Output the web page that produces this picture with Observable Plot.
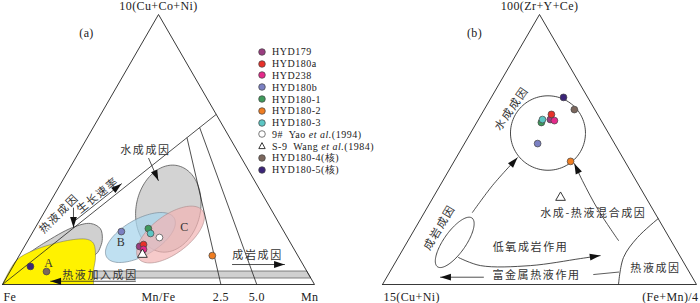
<!DOCTYPE html>
<html><head><meta charset="utf-8">
<script src="https://cdn.jsdelivr.net/npm/d3@7"></script>
<script src="https://cdn.jsdelivr.net/npm/@observablehq/plot@0.6"></script>
<style>
body{margin:0;background:#fff;}
#wrap{position:relative;width:700px;height:303px;display:flex;}
#legend{position:absolute;left:258px;top:46px;font-family:"Liberation Serif",serif;font-size:10px;color:#222;letter-spacing:0.5px;}
#legend .row{height:11.8px;display:flex;align-items:center;white-space:nowrap;}
#legend svg{margin-right:6px;flex:none;}
</style></head><body><div id="wrap"></div>
<script>
// ---------- data ----------
const samples = ["HYD179","HYD180a","HYD238","HYD180b","HYD180-1","HYD180-2","HYD180-3","9#","S-9","HYD180-4","HYD180-5"];
const legendLabels = ["HYD179","HYD180a","HYD238","HYD180b","HYD180-1","HYD180-2","HYD180-3",
  "9#&nbsp; Yao <i>et al.</i>(1994)","S-9&nbsp; Wang <i>et al.</i>(1984)","HYD180-4(核)","HYD180-5(核)"];
const sampleColors = ["#9a3d80","#e8312a","#e5298a","#7b80c2","#3f9a5c","#ef7d22","#5cc6c4","#ffffff","#ffffff","#7b675d","#3b2478"];

// panel (a): 10(Cu+Co+Ni) – Fe – Mn (%)
const aCuCoNi = [14.1,14.8,13.0,19.6,20.7,10.7,18.9,17.4,11.1,4.8,6.7];
const aFe     = [49.0,47.4,48.3,52.1,42.9,27.4,43.1,41.0,49.6,83.5,87.7];
const aMn     = [36.9,37.8,38.7,28.3,36.4,61.9,38.0,41.6,39.3,11.7,5.6];
// panel (b): 100(Zr+Y+Ce) – 15(Cu+Ni) – (Fe+Mn)/4 (%)
const bZrYCe  = [61.1,63.0,60.7,52.2,60.0,45.6,61.1,null,32.2,64.8,69.3];
const bCuNi   = [16.0,14.7,14.9,24.5,19.4,17.3,18.5,null,27.2,6.5,7.7];
const bFeMn   = [22.9,22.3,24.4,23.3,20.6,37.1,20.4,null,40.6,28.7,23.0];

// base tick labels of (a) and their Mn share on the Fe–Mn side (%)
const aBaseLabels = ["Mn/Fe","2.5","5.0"];
const aBaseMn = [50, 70, 81.5];
const aRatioLines = [70, 81.5];
const aMainLineEnd = [63, 37]; // [top %, Mn %] on the Cu–Mn side

// field outlines, [top %, right %]
const aHydroGray = [[8.1,0],[15.2,5.5],[21.1,11.9],[22.6,16.9],[20.7,21.0],[17.0,23.5],[14.1,24.4],[11.1,24.3],[6,15],[3,3]];
const aYellow = [[0,0],[8.9,0],[12.6,3.6],[16.3,12.7],[16.7,18.9],[15.2,21.6],[10,24.8],[5.2,26.6],[0,29.2]];
const aBand = [[5.0,26.7],[5.0,95.0],[2.4,97.6],[2.4,28.0]];
// ellipses: [top %, right %, semi-axis a, semi-axis b (side units), angle deg]
const aEllHydro = [28.1,39.1,0.141,0.103,78];
const aEllB = [17.4,35.5,0.125,0.058,30];
const aEllC = [18.5,44.6,0.128,0.061,37];
const bCircle = [56.1,24.65,0.1194,0.1194,0];
const bEllDiag = [15.6,15.2,0.0955,0.035,55];

const aArrows = [
  [[46.7,23.5],[38.5,30.7]],
  [[28.3,8.6],[21.1,12.2]],
  [[23.8,11.5],[37.3,19.5]],
  [[1.2,42.0],[1.2,14.8]],
  [[7.4,70.0],[7.4,86.7]]
];
const bArrows = [
  [[26.7,15.3],[36.7,16.7],[47.0,19.5]],
  [[16.3,67.0],[27.4,55.1],[38.5,44.4],[44.8,38.7]],
  [[10.0,19.2],[7.0,27.7],[7.0,43.6],[9.6,58.2],[10.7,64.0]],
  [[2.7,30.8],[2.7,17.1]]
];
const bLineMetal = [[3.7,65.4],[4.6,72.9]];
const bHydroBoundary = [[24.4,75.6],[17.4,72.5],[10.0,71.75],[0,75.16]];

const aZhLabels = [["水成成因",49.6,21.0,0],["热液成因",26.2,5.0,-45],["生长速率",33.0,14.0,-38.5],["热液加入成因",3.3,29.6,0],["成岩成因",10.7,76.4,0]];
const aFieldLetters = [["A",8.0,10.8],["B",15.6,30.2],["C",21.1,47.8]];
const bZhLabels = [["水成成因",65.2,8.5,-55],["成岩成因",21.1,7.6,-59],["低氧成岩作用",13.7,40.3,0],["富金属热液作用",3.3,47.4,0],["水成-热液混合成因",26.3,54.0,0],["热液成因",5.9,84.0,0]];

// ---------- helpers ----------
const S3 = Math.sqrt(3)/2;
const P = ([T,R]) => ({x: R/100 + T/200, y: T/100});
function ellipse([T,R,a,b,deg], n=120){
  const c = P([T,R]); const X0=c.x, Y0=c.y*S3, f=deg*Math.PI/180;
  return d3.range(n).map(i=>{const t=2*Math.PI*i/n;
    const X=X0+a*Math.cos(t)*Math.cos(f)-b*Math.sin(t)*Math.sin(f);
    const Y=Y0+a*Math.cos(t)*Math.sin(f)+b*Math.sin(t)*Math.cos(f);
    return {x:X,y:Y/S3};});
}
const headSym = {draw(ctx){ctx.moveTo(0,0);ctx.lineTo(-3.4,10.5);ctx.lineTo(3.4,10.5);ctx.closePath();}};
function arrowMarks(ptsT, kx, curve){
  const pts = ptsT.map(P);
  const p = pts[pts.length-2], q = pts[pts.length-1];
  const rot = Math.atan2((q.x-p.x)*kx, (q.y-p.y)*270)*180/Math.PI;
  return [
    Plot.line(pts,{x:"x",y:"y",stroke:"#222",strokeWidth:0.8,curve:curve||"linear"}),
    Plot.dot([q],{x:"x",y:"y",symbol:headSym,rotate:rot,fill:"#111",stroke:"none"})
  ];
}
const zh = {fontFamily:"Noto Sans CJK SC",fontSize:11,fill:"#333"};
const tri = [[0,0],[0,100],[100,0],[0,0]].map(P);

function pointsFor(top, left, right){
  return samples.map((s,i)=>{
    if(top[i]==null) return null;
    const sum = top[i]+left[i]+right[i];
    return {s, color:sampleColors[i], ...P([top[i]*100/sum, right[i]*100/sum])};
  }).filter(d=>d);
}
function pointMarks(pts){
  return [
    Plot.dot(pts.filter(d=>d.s!=="S-9"),{x:"x",y:"y",r:3.4,fill:d=>d.color,stroke:"#444",strokeWidth:0.7}),
    Plot.dot(pts.filter(d=>d.s==="S-9"),{x:"x",y:"y",r:3.6,symbol:"triangle",fill:"white",stroke:"#222",strokeWidth:0.9})
  ];
}
const common = {width:350,height:303,x:{domain:[0,1],axis:null},y:{domain:[0,1],axis:null},
  style:{fontFamily:"Liberation Serif",fontSize:"12px",background:"transparent",overflow:"visible",color:"#222"}};

// ---------- panel (a) ----------
const mainEnd = P(aMainLineEnd);
const rmr = aMainLineEnd[1]/aMainLineEnd[0];
const ratioSegs = aRatioLines.map(m=>{const mf=m/100, t=mf/(mf+rmr); const s=P([t*100, m*(1-t)]), e=P([0,m]); return {x1:s.x,y1:s.y,x2:e.x,y2:e.y};});
const plotA = Plot.plot({...common, marginLeft:2, marginRight:36, marginTop:14, marginBottom:19,
  marks:[
    Plot.line(ellipse(aEllHydro),{x:"x",y:"y",fill:"#d3d3d3",stroke:"#555",strokeWidth:0.8,curve:"linear-closed"}),
    Plot.line(ellipse(aEllB),{x:"x",y:"y",fill:"#a9d5ec",fillOpacity:0.75,stroke:"#6f8290",strokeWidth:0.6,curve:"linear-closed"}),
    Plot.line(ellipse(aEllC),{x:"x",y:"y",fill:"#f2b3b3",fillOpacity:0.7,stroke:"#a88",strokeWidth:0.6,curve:"linear-closed"}),
    Plot.line(aHydroGray.map(P),{x:"x",y:"y",fill:"#d0d0d0",stroke:"#555",strokeWidth:0.8,curve:"catmull-rom"}),
    Plot.line(aYellow.map(P),{x:"x",y:"y",fill:"#fff200",stroke:"#666",strokeWidth:0.5,curve:"catmull-rom"}),
    Plot.line(aBand.map(P),{x:"x",y:"y",fill:"#d0d0d0",stroke:"#555",strokeWidth:0.7,curve:"linear-closed"}),
    Plot.line(tri,{x:"x",y:"y",stroke:"#222",strokeWidth:0.9}),
    Plot.link([{x1:0,y1:0,x2:mainEnd.x,y2:mainEnd.y}],{x1:"x1",y1:"y1",x2:"x2",y2:"y2",stroke:"#222",strokeWidth:0.8}),
    Plot.link(ratioSegs,{x1:"x1",y1:"y1",x2:"x2",y2:"y2",stroke:"#222",strokeWidth:0.8}),
    ...aArrows.flatMap(a=>arrowMarks(a,312)),
    ...aZhLabels.map(([t,T,R,r])=>Plot.text([t],{...P([T,R]),text:d=>d,rotate:r,...zh})),
    ...aFieldLetters.map(([t,T,R])=>Plot.text([t],{...P([T,R]),text:d=>d,fontSize:12,fill:"#333"})),
    Plot.text(["10(Cu+Co+Ni)"],{...P([100,0]),text:d=>d,dy:-8}),
    Plot.text(["Fe"],{x:0,y:0,text:d=>d,dy:13,textAnchor:"start",dx:1}),
    Plot.text(["Mn"],{x:1,y:0,text:d=>d,dy:13,textAnchor:"end",dx:4}),
    Plot.text(aBaseLabels,{x:(d,i)=>aBaseMn[i]/100,y:0,text:d=>d,dy:13}),
    Plot.text(["(a)"],{frameAnchor:"top-left",text:d=>d,dx:84,dy:19,textAnchor:"middle",lineAnchor:"middle"}),
    ...pointMarks(pointsFor(aCuCoNi,aFe,aMn))
  ]});

// ---------- panel (b) ----------
const plotB = Plot.plot({...common, marginLeft:32, marginRight:4, marginTop:14, marginBottom:19,
  marks:[
    Plot.line(tri,{x:"x",y:"y",stroke:"#222",strokeWidth:0.9}),
    Plot.line(ellipse(bCircle),{x:"x",y:"y",stroke:"#333",strokeWidth:0.9,curve:"linear-closed"}),
    Plot.line(ellipse(bEllDiag),{x:"x",y:"y",stroke:"#333",strokeWidth:0.9,curve:"linear-closed"}),
    Plot.line(bHydroBoundary.map(P),{x:"x",y:"y",stroke:"#333",strokeWidth:0.9,curve:"catmull-rom"}),
    Plot.line(bLineMetal.map(P),{x:"x",y:"y",stroke:"#333",strokeWidth:0.8}),
    ...bArrows.flatMap(a=>arrowMarks(a,314,"catmull-rom")),
    ...bZhLabels.map(([t,T,R,r])=>Plot.text([t],{...P([T,R]),text:d=>d,rotate:r,...zh})),
    Plot.text(["100(Zr+Y+Ce)"],{...P([100,0]),text:d=>d,dy:-8}),
    Plot.text(["15(Cu+Ni)"],{x:0,y:0,text:d=>d,dy:13,textAnchor:"start",dx:1}),
    Plot.text(["(Fe+Mn)/4"],{x:1,y:0,text:d=>d,dy:13,textAnchor:"end",dx:2}),
    Plot.text(["(b)"],{frameAnchor:"top-left",text:d=>d,dx:92,dy:19,textAnchor:"middle",lineAnchor:"middle"}),
    ...pointMarks(pointsFor(bZrYCe,bCuNi,bFeMn))
  ]});

const wrap = document.getElementById("wrap");
for (const p of [plotA, plotB]) {
  d3.select(p).selectAll("text").each(function(){
    if (/[\u4e00-\u9fff]/.test(this.textContent)) this.setAttribute("letter-spacing","1.6");
    else this.setAttribute("letter-spacing","0.4");
  });
  wrap.appendChild(p);
}

// ---------- legend ----------
const leg = d3.select(wrap).append("div").attr("id","legend");
samples.forEach((s,i)=>{
  const row = leg.append("div").attr("class","row");
  const sv = row.append("svg").attr("width",8).attr("height",8).attr("viewBox","-4 -4 8 8");
  if (s==="S-9") sv.append("path").attr("d","M0,-3.4L3.2,2.6L-3.2,2.6Z").attr("fill","white").attr("stroke","#222").attr("stroke-width",0.9);
  else sv.append("circle").attr("r",3.3).attr("fill",sampleColors[i]).attr("stroke","#444").attr("stroke-width",0.7);
  row.append("span").html(legendLabels[i]);
});
</script></body></html>
